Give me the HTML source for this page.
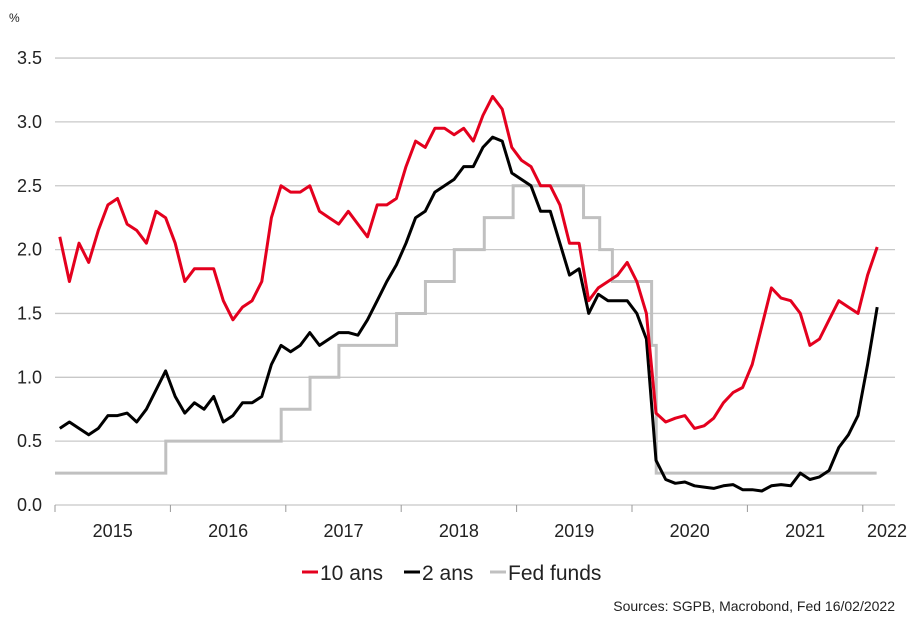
<!DOCTYPE html>
<html><head><meta charset="utf-8"><style>
body{margin:0;background:#fff;}
svg{display:block;font-family:"Liberation Sans",sans-serif;}
</style></head><body>
<svg id="c" width="922" height="633"></svg>
<script>
const years=["2015","2016","2017","2018","2019","2020","2021","2022"];
const yTicks=[0,0.5,1,1.5,2,2.5,3,3.5];
const yTickLabels=["0.0","0.5","1.0","1.5","2.0","2.5","3.0","3.5"];
// monthly from Jan 2015
const tenY=[2.1,1.75,2.05,1.9,2.15,2.35,2.4,2.2,2.15,2.05,2.3,2.25,
2.05,1.75,1.85,1.85,1.85,1.6,1.45,1.55,1.6,1.75,2.25,2.5,
2.45,2.45,2.5,2.3,2.25,2.2,2.3,2.2,2.1,2.35,2.35,2.4,
2.65,2.85,2.8,2.95,2.95,2.9,2.95,2.85,3.05,3.2,3.1,2.8,
2.7,2.65,2.5,2.5,2.35,2.05,2.05,1.6,1.7,1.75,1.8,1.9,
1.75,1.5,0.72,0.65,0.68,0.7,0.6,0.62,0.68,0.8,0.88,0.92,
1.1,1.4,1.7,1.62,1.6,1.5,1.25,1.3,1.45,1.6,1.55,1.5,
1.8,2.02];
const twoY=[0.6,0.65,0.6,0.55,0.6,0.7,0.7,0.72,0.65,0.75,0.9,1.05,
0.85,0.72,0.8,0.75,0.85,0.65,0.7,0.8,0.8,0.85,1.1,1.25,
1.2,1.25,1.35,1.25,1.3,1.35,1.35,1.33,1.45,1.6,1.75,1.88,
2.05,2.25,2.3,2.45,2.5,2.55,2.65,2.65,2.8,2.88,2.85,2.6,
2.55,2.5,2.3,2.3,2.05,1.8,1.85,1.5,1.65,1.6,1.6,1.6,
1.5,1.3,0.35,0.2,0.17,0.18,0.15,0.14,0.13,0.15,0.16,0.12,
0.12,0.11,0.15,0.16,0.15,0.25,0.2,0.22,0.27,0.45,0.55,0.7,
1.1,1.55];
const fedDates=[2015.0,2015.96,2016.96,2017.21,2017.46,2017.96,2018.21,2018.46,2018.72,2018.97,2019.58,2019.72,2019.83,2020.17,2020.21,2022.12];
const fedRates=[0.25,0.5,0.75,1.0,1.25,1.5,1.75,2.0,2.25,2.5,2.25,2.0,1.75,1.25,0.25,0.25];
const X0=55,YW=115.4,Y0=505,YS=127.7;
const xs=t=>X0+(t-2015)*YW, ys=v=>Y0-v*YS;
const svg=document.getElementById('c');const NS="http://www.w3.org/2000/svg";
function mk(tag,at,txt){const e=document.createElementNS(NS,tag);for(const k in at)e.setAttribute(k,at[k]);if(txt!=null)e.textContent=txt;svg.appendChild(e);return e;}
yTicks.forEach((v,i)=>{
 if(v>0){const g=mk('line',{x1:55,x2:895,y1:ys(v),y2:ys(v),stroke:'#c8c8c8','stroke-width':1.3});
 
 }
 const t=mk('text',{x:42,y:ys(v)+6,'text-anchor':'end','font-size':18,fill:'#222'},yTickLabels[i]);
 
 
});
const ax=mk('line',{x1:55,x2:895,y1:Y0,y2:Y0,stroke:'#c8c8c8','stroke-width':1.3});


years.forEach((y,i)=>{
 const tk=mk('line',{x1:xs(2015+i),x2:xs(2015+i),y1:Y0,y2:Y0+7,stroke:'#999','stroke-width':1});
 
 
 const cx=i<7?xs(2015.5+i):887;
 const t=mk('text',{x:cx,y:537,'text-anchor':'middle','font-size':18,fill:'#222'},y);
 
 
});
const pct=mk('text',{x:9,y:22,'font-size':12,fill:'#222'},'%');


let d='';fedDates.forEach((t,i)=>{const x=xs(t),y=ys(fedRates[i]);if(i==0)d='M'+x+','+y;else d+=' H'+x+' V'+y;});
d+=' H'+xs(fedDates[fedDates.length-1]);
const fp=mk('path',{d:d,fill:'none',stroke:'#c0c0c0','stroke-width':3});


function series(arr,col,name){
 const pts=arr.map((v,i)=>xs(2015+(i+0.5)/12).toFixed(1)+','+ys(v).toFixed(1));
 const p=mk('polyline',{points:pts.join(' '),fill:'none',stroke:col,'stroke-width':3,'stroke-linejoin':'round'});
 
 
}
series(twoY,'#000','two-year-line');
series(tenY,'#e4001e','ten-year-line');
const leg=[['#e4001e','10 ans',302],['#000','2 ans',404],['#c0c0c0','Fed funds',490]];
leg.forEach(l=>{
 const ln=mk('line',{x1:l[2],x2:l[2]+16,y1:572,y2:572,stroke:l[0],'stroke-width':3});
 
 
 const t=mk('text',{x:l[2]+18,y:580,'font-size':21,fill:'#222'},l[1]);
 
 
});
const src=mk('text',{x:895,y:611,'text-anchor':'end','font-size':14,fill:'#222'},'Sources: SGPB, Macrobond, Fed 16/02/2022');


</script>
</body></html>
